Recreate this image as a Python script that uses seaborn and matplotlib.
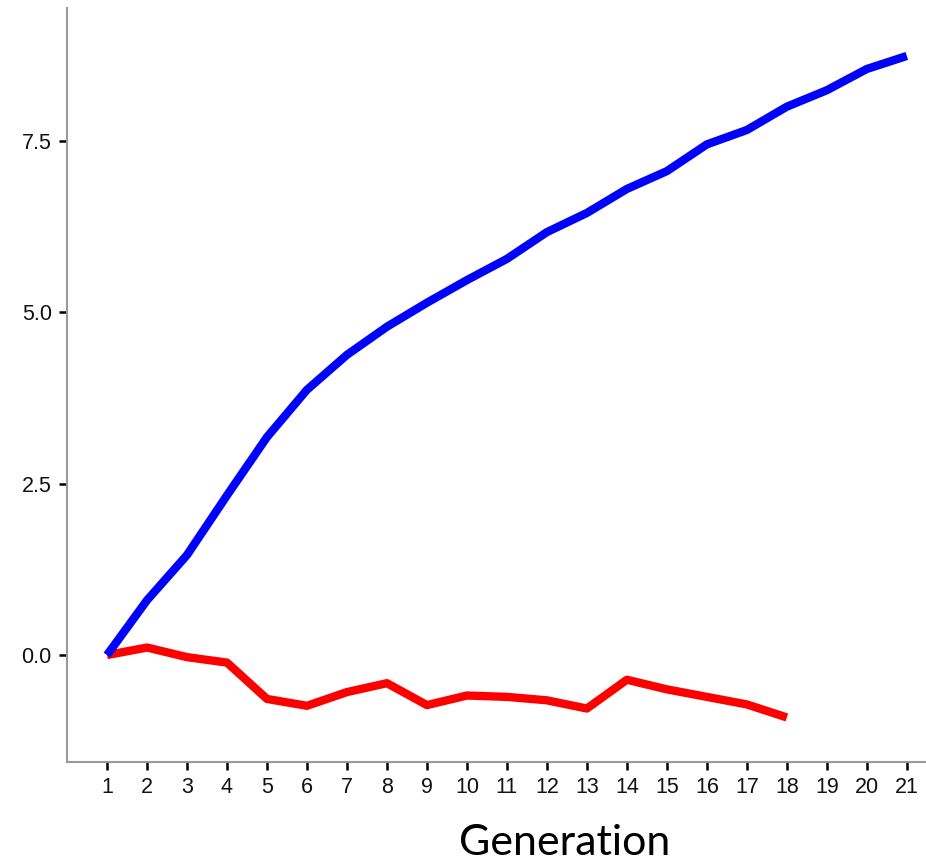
import matplotlib
matplotlib.use("Agg")
import matplotlib.pyplot as plt
import seaborn as sns
import pandas as pd
import numpy as np

# Generation index and the two tracked series
generations = list(range(1, 22))
blue_values = [0.0, 0.80, 1.46, 2.33, 3.18, 3.87, 4.38, 4.79, 5.14, 5.47, 5.78,
               6.17, 6.45, 6.80, 7.06, 7.45, 7.66, 8.00, 8.24, 8.55, 8.74]
red_values = [0.0, 0.11, -0.03, -0.11, -0.64, -0.74, -0.54, -0.41, -0.73, -0.59,
              -0.61, -0.66, -0.78, -0.36, -0.50, -0.61, -0.72, -0.91]
series_names = ["blue", "red"]
y_ticks = [0.0, 2.5, 5.0, 7.5]

df = pd.concat([
    pd.DataFrame({"Generation": generations, "value": blue_values, "series": series_names[0]}),
    pd.DataFrame({"Generation": generations[:len(red_values)], "value": red_values, "series": series_names[1]}),
])

sns.set_theme(style="ticks")
plt.rcParams["font.family"] = ["Liberation Sans", "DejaVu Sans"]

fig = plt.figure(figsize=(9.26, 8.67), dpi=100)
ax = fig.add_axes([0.0724, 0.1211, 0.9276, 0.8697])

sns.lineplot(data=df, x="Generation", y="value", hue="series",
             palette={"blue": "#0000ff", "red": "#ff0000"},
             hue_order=["red", "blue"],
             linewidth=6, legend=False, ax=ax, solid_capstyle="butt")

ax.set_xlim(0, 21.48)
ax.set_ylim(-1.56, 9.44)
ax.set_xticks(generations)
ax.set_xticklabels([str(g) for g in generations])
ax.set_yticks(y_ticks)
ax.set_yticklabels([f"{t:.1f}" for t in y_ticks])
ax.set_xlabel("")
ax.set_ylabel("")

for side in ["top", "right"]:
    ax.spines[side].set_visible(False)
for side in ["left", "bottom"]:
    ax.spines[side].set_color("#9a9a9a")
    ax.spines[side].set_linewidth(1.5)

ax.tick_params(axis="both", direction="out", length=6, width=1.8, color="black",
               labelsize=15.5, labelcolor="#111111", pad=5)

fig.text(0.61, 0.006, "Generation", ha="center", va="bottom",
         fontsize=31, family=["Lato", "DejaVu Sans"], color="black")

fig.savefig("out.png", dpi=100)
